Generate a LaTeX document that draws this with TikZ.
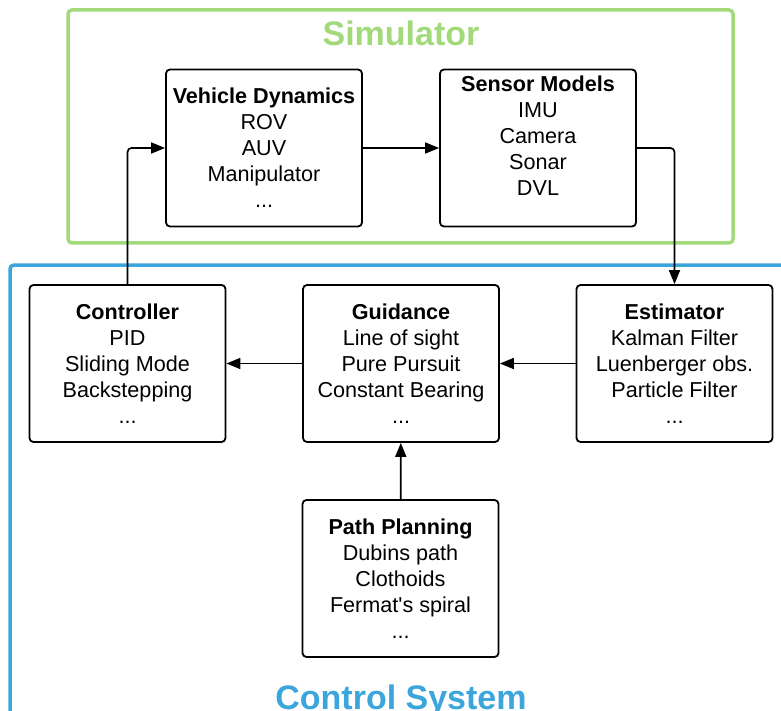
\documentclass[tikz,border=0pt]{standalone}
\usepackage{fontspec}
\setmainfont{Liberation Sans}[Ligatures=TeXOff]
\usepackage{xcolor}
\usetikzlibrary{arrows.meta}
\definecolor{simgreen}{HTML}{A2D97B}
\definecolor{ctrlblue}{HTML}{3CA6DC}

\begin{document}
\begin{tikzpicture}[
  x=1pt, y=-1pt,
  block/.style={rectangle, draw, line width=1.8pt, rounded corners=4pt, minimum width=196pt, minimum height=157pt, inner sep=0pt, align=center, font=\fontsize{21.6}{26}\selectfont},
  arrow/.style={-{Triangle[length=14pt,width=11pt]}, line width=1.7pt},
  frame/.style={line width=3.5pt, rounded corners=4pt},
  title/.style={anchor=base, font=\fontsize{34}{40}\selectfont\bfseries}
]
  \path[use as bounding box, clip] (0,0) rectangle (781,711);

  % Simulator
  \draw[frame, simgreen] (68,10) rectangle (733,243);
  \node[title, text=simgreen] (simtitle) at (401,46) {Simulator};
  \node[block] (vdyn) at (264,148) {\textbf{Vehicle Dynamics}\\ROV\\AUV\\Manipulator\\...};
  \node[block] (sens) at (538,148) {\textbf{Sensor Models}\\IMU\\Camera\\Sonar\\DVL\\[-2pt]\mbox{}};

  % Control system
  \draw[frame, ctrlblue] (10,730) -- (10,265) -- (800,265);
  \node[title, text=ctrlblue] (ctrltitle) at (401,709) {Control System};
  \node[block] (ctrl) at (127.5,363.5) {\textbf{Controller}\\PID\\Sliding Mode\\Backstepping\\...};
  \node[block] (guid) at (401,363.5) {\textbf{Guidance}\\Line of sight\\Pure Pursuit\\Constant Bearing\\...};
  \node[block] (est) at (674.5,363.5) {\textbf{Estimator}\\Kalman Filter\\Luenberger obs.\\Particle Filter\\...};
  \node[block] (path) at (400.5,578.5) {\textbf{Path Planning}\\Dubins path\\Clothoids\\Fermat's spiral\\...};

  \draw[arrow, rounded corners=4pt] (ctrl.north) |- (vdyn.west);
  \draw[arrow] (vdyn) -- (sens);
  \draw[arrow, rounded corners=4pt] (sens.east) -| (est.north);
  \draw[arrow] (est) -- (guid);
  \draw[arrow] (guid) -- (ctrl);
  \draw[arrow] (path) -- (guid);
\end{tikzpicture}
\end{document}
